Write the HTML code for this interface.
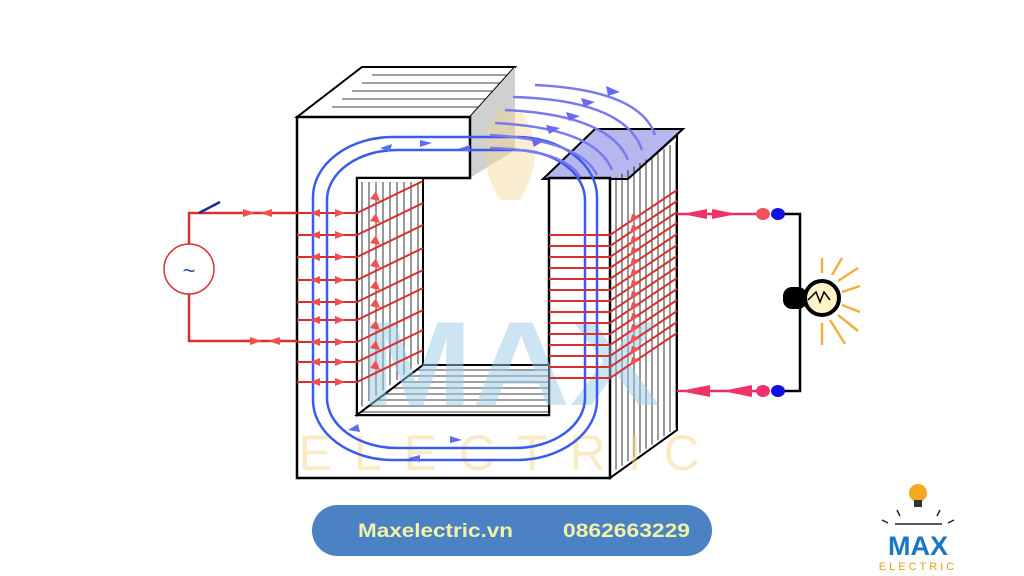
<!DOCTYPE html>
<html><head><meta charset="utf-8"><style>
html,body{margin:0;padding:0;background:#fff;width:1024px;height:576px;overflow:hidden}
svg{display:block}
</style></head><body>
<svg id="s" width="1024" height="576" viewBox="0 0 1024 576" xmlns="http://www.w3.org/2000/svg" font-family="Liberation Sans, sans-serif">
<!-- core top back face -->
<polygon points="297,117 362,67 515,67 470,117" fill="#fff" stroke="#000" stroke-width="2"/>
<g stroke="#000" stroke-width="0.8">
<line x1="372" y1="75" x2="508" y2="75"/><line x1="362" y1="83" x2="501" y2="83"/><line x1="352" y1="91" x2="494" y2="91"/><line x1="342" y1="99" x2="487" y2="99"/><line x1="332" y1="107" x2="480" y2="107"/>
</g>
<polygon points="470,117 515,67 515,150 470,178" fill="#d0d0d0"/>
<!-- right top blue face -->
<polygon points="543,179 628,179 683,129 595,129" fill="#b7b7f0" stroke="#000" stroke-width="2"/>
<!-- right side face -->
<polygon points="610,179 628,179 677,135 677,430 610,478" fill="#fff" stroke="#000" stroke-width="2"/>
<!-- front face with window -->
<path d="M297,117 L470,117 L470,178 L357,178 L357,415 L549,415 L549,178 L610,178 L610,478 L297,478 Z" fill="#fff" stroke="#000" stroke-width="2.5"/>
<!-- inner window depth -->
<polygon points="357,178 423,178 423,365 357,415" fill="#fff" stroke="#000" stroke-width="2"/>
<polygon points="357,415 423,365 549,365 549,415" fill="#fff" stroke="#000" stroke-width="2"/>
<g id="hatch" stroke="#000" stroke-width="0.8"></g>
<!-- watermark -->
<text x="510" y="405" font-size="120" font-weight="bold" fill="#9ccbe8" opacity="0.5" text-anchor="middle" textLength="300" lengthAdjust="spacingAndGlyphs">MAX</text>
<text x="510" y="470" font-size="50" fill="#f6d98a" opacity="0.5" text-anchor="middle" letter-spacing="22">ELECTRIC</text>
<path d="M500,110 q-30,40 0,90 h20 q30,-50 0,-90z" fill="#f5d58a" opacity="0.4"/>
<!-- flux loops -->
<rect x="313" y="137" width="284" height="323" rx="80" ry="60" fill="none" stroke="#3b5bee" stroke-width="2.5"/>
<rect x="327" y="150" width="258" height="298" rx="70" ry="50" fill="none" stroke="#3b5bee" stroke-width="2.5"/>
<path d="M380,148 l12,-4 l-2,8z M420,140 l12,3 l-12,4z M470,152 l-12,-3 l12,-4z M360,432 l-12,-2 l10,-6z M420,455 l-12,3 l12,4z M450,443 l12,-3 l-12,-4z" fill="#5a6ef0"/>
<g id="coils"></g>
<!-- leakage flux arcs -->
<g fill="none" stroke="#7a7aee" stroke-width="2.5">
<path d="M535,85 Q640,90 655,135"/>
<path d="M513,97 Q625,100 642,150"/>
<path d="M505,110 Q610,115 628,160"/>
<path d="M495,123 Q595,128 612,170"/>
<path d="M490,135 Q580,140 597,175"/>
<path d="M490,148 Q565,150 580,177"/>
</g>
<path d="M620,92 l-14,-6 l2,10z M595,102 l-14,-4 l3,9z M580,116 l-14,-4 l3,9z M560,128 l-14,-3 l3,9z M545,140 l-14,-2 l3,9z" fill="#6a6af0"/>
<!-- left circuit -->
<g stroke="#d83030" stroke-width="2.5" fill="none">
<polyline points="297,213 189,213 189,244"/>
<polyline points="189,294 189,341 297,341"/>
<circle cx="189" cy="269" r="25" stroke-width="1.5"/>
</g>
<line x1="199" y1="213" x2="220" y2="202" stroke="#1a2a9a" stroke-width="2.5"/>
<text x="189" y="278" font-size="22" fill="#2a4a9a" text-anchor="middle">~</text>
<path d="M243,209 l12,4 l-12,4z M272,209 l-12,4 l12,4z M250,337 l12,4 l-12,4z M280,337 l-12,4 l12,4z" fill="#f05050"/>
<!-- right circuit -->
<g stroke="#000" stroke-width="2.5" fill="none"><polyline points="780,214 800,214 800,391 780,391"/></g>
<line x1="677" y1="214" x2="760" y2="214" stroke="#e03060" stroke-width="2.5"/>
<line x1="677" y1="391" x2="760" y2="391" stroke="#e03060" stroke-width="2.5"/>
<path d="M682,214 l25,-5 v10z M712,209 l25,5 l-25,5z M680,391 l30,-6 v12z M752,385 l-30,6 l30,6z" fill="#ee3366"/>
<ellipse cx="763" cy="214" rx="7" ry="6" fill="#f05060"/><ellipse cx="778" cy="214" rx="7" ry="6" fill="#1010e0"/>
<ellipse cx="763" cy="391" rx="7" ry="6" fill="#f03070"/><ellipse cx="778" cy="391" rx="7" ry="6" fill="#1010e0"/>
<rect x="783" y="287" width="24" height="22" rx="9" fill="#000"/>
<circle cx="822" cy="298" r="17" fill="#fdf4c8" stroke="#000" stroke-width="4"/>
<path d="M808,300 l8,-8 l4,10 l4,-10 l6,8" stroke="#000" stroke-width="1.5" fill="none"/>
<g stroke="#f0b040" stroke-width="2.5">
<line x1="822" y1="258" x2="822" y2="273"/><line x1="832" y1="275" x2="842" y2="258"/><line x1="838" y1="281" x2="858" y2="268"/>
<line x1="842" y1="292" x2="860" y2="286"/><line x1="842" y1="305" x2="860" y2="312"/><line x1="838" y1="315" x2="858" y2="331"/>
<line x1="830" y1="320" x2="845" y2="344"/><line x1="822" y1="323" x2="822" y2="345"/>
</g>
<!-- bottom pill -->
<rect x="312" y="505" width="400" height="51" rx="25.5" fill="#4a82c4"/>
<text x="358" y="537" font-size="19" font-weight="bold" fill="#f2f3a6" textLength="155" lengthAdjust="spacingAndGlyphs">Maxelectric.vn</text>
<text x="563" y="537" font-size="19" font-weight="bold" fill="#f2f3a6" textLength="127" lengthAdjust="spacingAndGlyphs">0862663229</text>
<!-- logo -->
<circle cx="918" cy="493" r="9" fill="#f2a920"/><rect x="914" y="500" width="8" height="7" fill="#333"/>
<g stroke="#222" stroke-width="1.5"><line x1="897" y1="510" x2="900" y2="516"/><line x1="940" y1="510" x2="937" y2="516"/><line x1="882" y1="520" x2="888" y2="523"/><line x1="954" y1="520" x2="948" y2="523"/><line x1="895" y1="524" x2="942" y2="524"/></g>
<text x="918" y="555" font-size="27" font-weight="bold" fill="#1a78c2" text-anchor="middle">MAX</text>
<text x="918" y="570" font-size="11" fill="#e0a020" text-anchor="middle" letter-spacing="3">ELECTRIC</text>
</svg>
<script>
var NS="http://www.w3.org/2000/svg";
function L(g,x1,y1,x2,y2,c,w){var l=document.createElementNS(NS,"line");l.setAttribute("x1",x1);l.setAttribute("y1",y1);l.setAttribute("x2",x2);l.setAttribute("y2",y2);l.setAttribute("stroke",c);l.setAttribute("stroke-width",w);g.appendChild(l);}
var h=document.getElementById("hatch");
for(var x=362;x<423;x+=7)L(h,x,182,x,410-(x-357)*0.75,"#000",0.8);
for(var y=370;y<413;y+=6)L(h,357+(415-y)*1.3,y,549,y,"#000",0.8);
for(var x=616;x<677;x+=6)L(h,x,181-(x-610)*0.6,x,474-(x-610)*0.7,"#000",0.8);
var g=document.getElementById("coils");
var ly=[213,235,257,280,302,320,342,362,382];
ly.forEach(function(y){L(g,297,y,357,y,"#d83030",2);L(g,357,y,423,y-32,"#d83030",2);
 var p=document.createElementNS(NS,"path");p.setAttribute("d","M320,"+(y-4)+" l-10,4 l10,4z M335,"+(y-4)+" l10,4 l-10,4z M380,"+(y-12)+" l-10,-2 l6,-8z");p.setAttribute("fill","#f05050");g.appendChild(p);});
for(var y=235;y<=378;y+=11){L(g,549,y,610,y,"#d83030",2);L(g,610,y,677,y-45,"#d83030",2);
 var p=document.createElementNS(NS,"path");p.setAttribute("d","M640,"+(y-18)+" l-10,6 l2,-9z");p.setAttribute("fill","#f05050");g.appendChild(p);}
</script>
</body></html>
